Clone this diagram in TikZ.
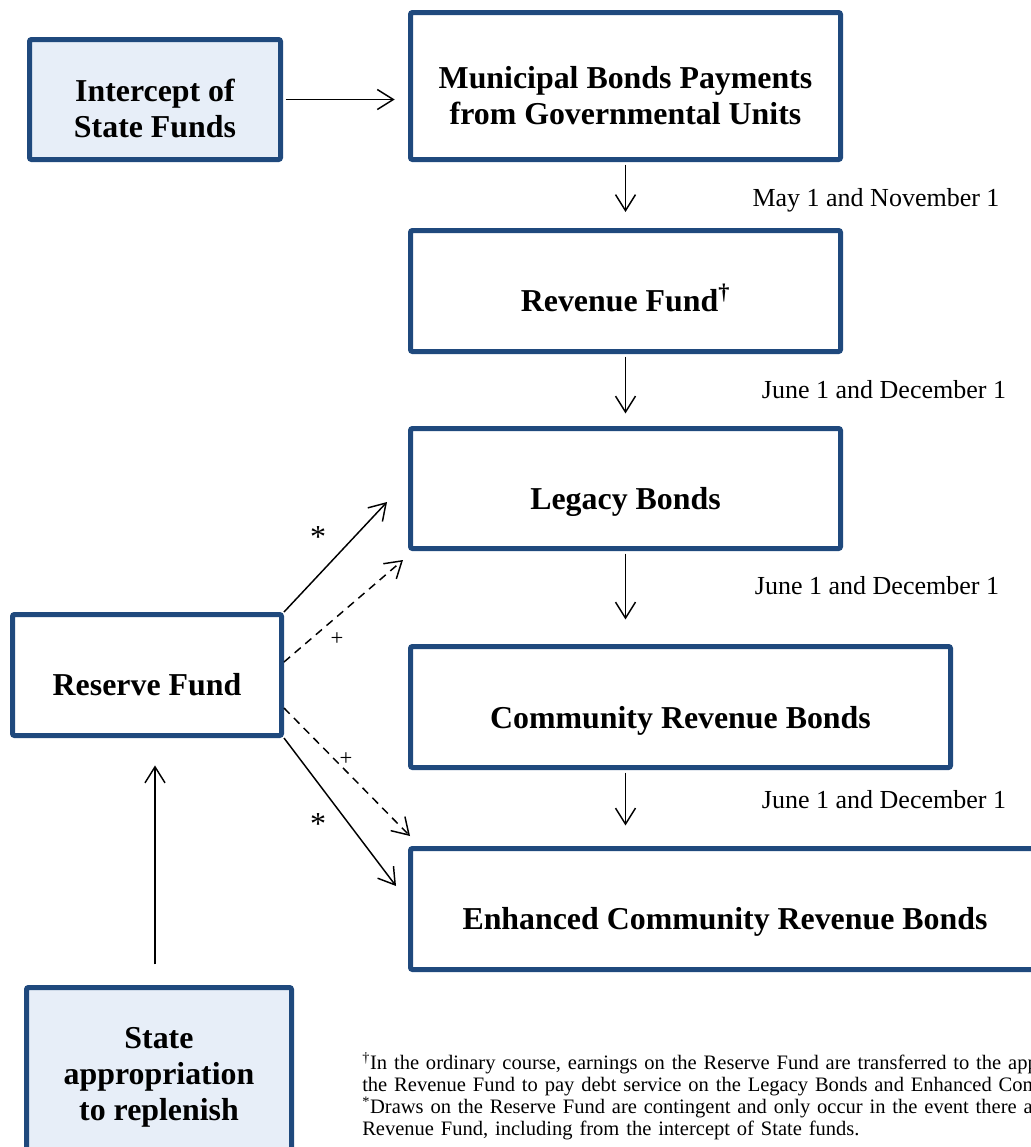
\documentclass[tikz,border=0pt]{standalone}
\usepackage{fontspec}
\setmainfont{Liberation Serif}
\usetikzlibrary{arrows.meta,positioning,calc}
\definecolor{bondblue}{HTML}{1F497D}
\definecolor{boxfill}{HTML}{E7EEF8}

\tikzset{
  fundbox/.style={draw=bondblue,line width=3.75pt,rounded corners=1.5pt,inner sep=0pt},
  statebox/.style={fundbox,fill=boxfill},
  boxtext/.style={font=\bfseries\fontsize{23.9}{27}\selectfont,align=center,inner sep=0pt},
  datetext/.style={font=\fontsize{19.5}{22}\selectfont,inner sep=0pt},
  flow/.style={-{Straight Barb[length=12pt,width=15pt]},line width=1.1pt},
  drawflow/.style={flow,dash pattern=on 6pt off 4.5pt},
}

\begin{document}
\begin{tikzpicture}[x=0.75pt,y=-0.75pt]
  \useasboundingbox (0,0) rectangle (1031,1147);
  \clip (0,0) rectangle (1031,1147);
  % boxes
  \node[statebox,minimum width=188.25pt,minimum height=90pt] (intercept) at (155,99.5) {};
  \node[fundbox,minimum width=322.5pt,minimum height=110.25pt] (muni) at (625.5,86) {};
  \node[fundbox,minimum width=322.5pt,minimum height=90.75pt] (revenue) at (625.5,291) {};
  \node[fundbox,minimum width=322.5pt,minimum height=90pt] (legacy) at (625.5,488.5) {};
  \node[fundbox,minimum width=405pt,minimum height=90.75pt] (community) at (680.5,707) {};
  \node[fundbox,minimum width=471.75pt,minimum height=90.75pt] (enhanced) at (725,909) {};
  \node[fundbox,minimum width=201.75pt,minimum height=90.75pt] (reserve) at (147,675) {};
  \node[statebox,minimum width=198.75pt,minimum height=138.75pt] (state) at (159,1080) {};
  % box texts
  \node[boxtext] (intercept-t) at ([yshift=-6.75pt]intercept.center) {Intercept of\\State Funds};
  \node[boxtext] (muni-t) at ([yshift=-7.5pt]muni.center) {Municipal Bonds Payments\\from Governmental Units};
  \node[boxtext] (revenue-t) at ([yshift=-5.25pt]revenue.center) {Revenue Fund\textsuperscript{†}};
  \node[boxtext] (legacy-t) at ([yshift=-9.75pt]legacy.center) {Legacy Bonds};
  \node[boxtext] (community-t) at ([yshift=-10.5pt]community.center) {Community Revenue Bonds};
  \node[boxtext] (enhanced-t) at ([yshift=-9.75pt]enhanced.center) {Enhanced Community Revenue Bonds};
  \node[boxtext] (reserve-t) at ([yshift=-7.5pt]reserve.center) {Reserve Fund};
  \node[boxtext] (state-t) at ([yshift=2.25pt]state.center) {State\\appropriation\\to replenish};

  % payment flow
  \draw[flow,shorten <=1.9pt,shorten >=10pt] (intercept.east) -- (intercept.east -| muni.west);
  \draw[flow,shorten <=1.9pt,shorten >=12pt] (muni.south) -- (revenue.north);
  \draw[flow,shorten <=1.9pt,shorten >=9.4pt] (revenue.south) -- (legacy.north);
  \draw[flow,shorten <=1.9pt,shorten >=18.4pt] (legacy.south) -- (legacy.south |- community.north);
  \draw[flow,shorten <=1.9pt,shorten >=15.4pt] (legacy.south |- community.south) -- (legacy.south |- enhanced.north);
  \node[datetext] (may) at (876,200) {May 1 and November 1};
  \node[datetext] (june1) at (884,390) {June 1 and December 1};
  \node[datetext] (june2) at (877,586) {June 1 and December 1};
  \node[datetext] (june3) at (884,800) {June 1 and December 1};

  % reserve fund draws
  \coordinate (legtipA) at (387,502);
  \coordinate (legtipB) at (403,560);
  \coordinate (enhtipA) at (410,836);
  \coordinate (enhtipB) at (396,886);
  \draw[flow] (reserve.north east) -- (legtipA);
  \draw[drawflow] ([yshift=9.75pt]reserve.east) -- (legtipB);
  \draw[drawflow] ([yshift=-24.75pt]reserve.east) -- (enhtipA);
  \draw[flow] (reserve.south east) -- (enhtipB);
  \node[datetext,font=\fontsize{24}{24}\selectfont] (starA) at (318,537) {*};
  \node[datetext,font=\fontsize{24}{24}\selectfont] (starB) at (318,824) {*};
  \node[datetext,font=\fontsize{17}{17}\selectfont] (plusA) at (337,639) {+};
  \node[datetext,font=\fontsize{17}{17}\selectfont] (plusB) at (346,759) {+};

  % replenish
  \draw[flow,shorten <=15.4pt,shorten >=20.6pt] ([xshift=-3pt]state.north) -- ([xshift=-3pt]state.north |- reserve.south);

  % footnotes
  \node[anchor=base west,inner sep=0pt,text width=700pt,align=left,
        font=\fontsize{15.4}{16.7}\selectfont] (notes) at (362,1069)
    {\textsuperscript{†}In the ordinary course, earnings on the Reserve Fund are transferred to the appropriate\\
     the Revenue Fund to pay debt service on the Legacy Bonds and Enhanced Community\\
     \textsuperscript{*}Draws on the Reserve Fund are contingent and only occur in the event there are\\
     Revenue Fund, including from the intercept of State funds.};
\end{tikzpicture}
\end{document}
